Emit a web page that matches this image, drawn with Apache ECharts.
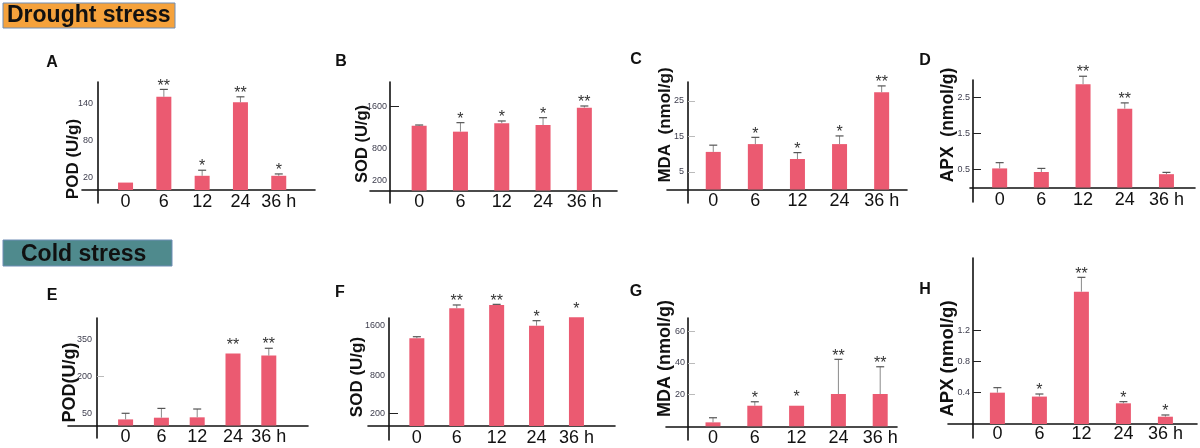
<!DOCTYPE html>
<html>
<head>
<meta charset="utf-8">
<script src="https://cdn.jsdelivr.net/npm/echarts@6.0.0/dist/echarts.min.js"></script>
<style>
  html, body { margin: 0; padding: 0; background: #fff; }
  #chart { width: 1200px; height: 448px; }
</style>
</head>
<body>
<div id="chart"></div>
<script>
// ---------- data ----------
const categories = ['0', '6', '12', '24', '36 h'];

// Drought stress
const podDrought = [12, 151, 23, 142, 23];
const podDroughtErr = [null, 163, 32, 151, 26];
const podDroughtSig = ['', '**', '*', '**', '*'];
const podDroughtTicks = [20, 80, 140];

const sodDrought = [1237, 1123, 1283, 1250, 1581];
const sodDroughtErr = [1250, 1295, 1327, 1390, 1613];
const sodDroughtSig = ['', '*', '*', '*', '**'];
const sodDroughtTicks = [200, 800, 1600];

const mdaDrought = [10.6, 12.8, 8.6, 12.8, 27.4];
const mdaDroughtErr = [12.5, 14.7, 10.4, 15.1, 29.2];
const mdaDroughtSig = ['', '*', '*', '*', '**'];
const mdaDroughtTicks = [5, 15, 25];

const apxDrought = [0.53, 0.43, 2.87, 2.19, 0.37];
const apxDroughtErr = [0.69, 0.53, 3.09, 2.35, 0.42];
const apxDroughtSig = ['', '', '**', '**', ''];
const apxDroughtTicks = [0.5, 1.5, 2.5];

// Cold stress
const podCold = [25, 32, 33.5, 295, 286];
const podColdErr = [50, 70, 67.5, null, 316];
const podColdSig = ['', '', '', '**', '**'];
const podColdTicks = [50, 200, 350];

const sodCold = [1390, 1865, 1918, 1590, 1723];
const sodColdErr = [1415, 1918, 1928, 1669, null];
const sodColdSig = ['', '**', '**', '*', '*'];
const sodColdTicks = [200, 800, 1600];

const mdaCold = [2.5, 13, 13, 20.4, 20.4];
const mdaColdErr = [5.4, 15.5, null, 42.3, 37.6];
const mdaColdSig = ['', '*', '*', '**', '**'];
const mdaColdTicks = [20, 40, 60];

const apxCold = [0.40, 0.35, 1.69, 0.264, 0.093];
const apxColdErr = [0.464, 0.383, 1.873, 0.285, 0.115];
const apxColdSig = ['', '*', '**', '*', '*'];
const apxColdTicks = [0.4, 0.8, 1.2];

// ---------- layout / style (not data) ----------
const FONT = "'Liberation Sans', Arial, Helvetica, sans-serif";
const BAR_COLOR = '#EB5A71';
const DARK_TICK = '#222';
const FAINT_TICK = '#bbb';

const panels = [
  { letter: 'A', lx: 52, ly: 63, name: 'POD (U/g)', ns: 17, nx: 73, ny: 159,
    bandL: 106.4, bandW: 191.5, top: 82, bottom: 203, axisX: 98, lineL: 82, lineR: 315,
    min: -21.1, max: 175, vals: podDrought, errs: podDroughtErr, sigs: podDroughtSig,
    ticks: podDroughtTicks, tickVals: [], tickColor: DARK_TICK, tickLen: 6, labelMargin: 5, catMargin: 3 },
  { letter: 'B', lx: 341, ly: 62, name: 'SOD (U/g)', ns: 16.5, nx: 362, ny: 144,
    bandL: 398.5, bandW: 206.5, top: 82, bottom: 203, axisX: 390, lineL: 370, lineR: 617,
    min: -238.6, max: 2071, vals: sodDrought, errs: sodDroughtErr, sigs: sodDroughtSig,
    ticks: sodDroughtTicks, tickVals: [1600], tickColor: DARK_TICK, tickLen: 9, labelMargin: 3, catMargin: 3 },
  { letter: 'C', lx: 636, ly: 60, name: 'MDA  (nmol/g)', ns: 17, nx: 665, ny: 125,
    bandL: 692.2, bandW: 210.5, top: 82, bottom: 203, axisX: 688, lineL: 667, lineR: 907,
    min: -3.8, max: 30.3, vals: mdaDrought, errs: mdaDroughtErr, sigs: mdaDroughtSig,
    ticks: mdaDroughtTicks, tickVals: mdaDroughtTicks, tickColor: FAINT_TICK, tickLen: 7, labelMargin: 4, catMargin: 3 },
  { letter: 'D', lx: 925, ly: 61, name: 'APX  (nmol/g)', ns: 17.5, nx: 948, ny: 125,
    bandL: 978.8, bandW: 208.5, top: 80, bottom: 202, axisX: 973, lineL: 970, lineR: 1195,
    min: -0.403, max: 2.986, vals: apxDrought, errs: apxDroughtErr, sigs: apxDroughtSig,
    ticks: apxDroughtTicks, tickVals: apxDroughtTicks, tickColor: DARK_TICK, tickLen: 8, labelMargin: 3, catMargin: 4 },
  { letter: 'E', lx: 52, ly: 296, name: 'POD(U/g)', ns: 18, nx: 70, ny: 382.5,
    bandL: 107.7, bandW: 179, top: 318, bottom: 438, axisX: 97, lineL: 68, lineR: 308,
    min: -51.1, max: 439.9, vals: podCold, errs: podColdErr, sigs: podColdSig,
    ticks: podColdTicks, tickVals: [200], tickColor: FAINT_TICK, tickLen: 7, labelMargin: 5, catMargin: 3 },
  { letter: 'F', lx: 340, ly: 293, name: 'SOD (U/g)', ns: 17, nx: 357, ny: 377,
    bandL: 396.9, bandW: 199.5, top: 318, bottom: 440, axisX: 389, lineL: 368, lineR: 615,
    min: -221.9, max: 1711.6, vals: sodCold, errs: sodColdErr, sigs: sodColdSig,
    ticks: sodColdTicks, tickVals: [200], tickColor: DARK_TICK, tickLen: 9, labelMargin: 4, catMargin: 3 },
  { letter: 'G', lx: 636, ly: 292, name: 'MDA (nmol/g)', ns: 18, nx: 665, ny: 358.5,
    bandL: 692.1, bandW: 209, top: 318, bottom: 440, axisX: 688, lineL: 666, lineR: 897,
    min: -8.65, max: 68.4, vals: mdaCold, errs: mdaColdErr, sigs: mdaColdSig,
    ticks: mdaColdTicks, tickVals: mdaColdTicks, tickColor: FAINT_TICK, tickLen: 7, labelMargin: 3, catMargin: 3 },
  { letter: 'H', lx: 925, ly: 290, name: 'APX (nmol/g)', ns: 18.5, nx: 948, ny: 358.5,
    bandL: 976.4, bandW: 210, top: 258, bottom: 438, axisX: 973, lineL: 948, lineR: 1197,
    min: -0.179, max: 2.12, vals: apxCold, errs: apxColdErr, sigs: apxColdSig,
    ticks: apxColdTicks, tickVals: apxColdTicks, tickColor: DARK_TICK, tickLen: 8, labelMargin: 3, catMargin: 1 }
];

// ---------- build option ----------
const grid = [], xAxis = [], yAxis = [], series = [], graphic = [];

function errorRender(p) {
  return function (params, api) {
    const i = params.dataIndex;
    const v = api.value(1);
    const e = p.errs[i];
    const top = api.coord([api.value(0), v]);
    const children = [];
    let starY = top[1] - 11;
    if (e != null) {
      const et = api.coord([api.value(0), e]);
      children.push({ type: 'line', shape: { x1: top[0], y1: top[1], x2: top[0], y2: et[1] },
        style: { stroke: '#8a8a8a', lineWidth: 1 } });
      children.push({ type: 'line', shape: { x1: top[0] - 4, y1: et[1], x2: top[0] + 4, y2: et[1] },
        style: { stroke: '#555', lineWidth: 1.2 } });
      starY = et[1] - 6.5;
    }
    const s = p.sigs[i];
    if (s) {
      children.push({ type: 'text', x: top[0], y: starY + 3.3,
        style: { text: s, fill: '#333', fontSize: 16, fontFamily: FONT,
          align: 'center', verticalAlign: 'middle', textAlign: 'center', textVerticalAlign: 'middle' } });
    }
    return { type: 'group', children: children };
  };
}

function plainNumber(v) { return String(v); }

panels.forEach(function (p, k) {
  const h = p.bottom - p.top;
  // distance from the grid bottom up to the value-0 line of the y axis
  const zeroLift = h * (-p.min) / (p.max - p.min);

  const gMain = grid.length;
  grid.push({ left: p.bandL, top: p.top, width: p.bandW, height: h,
    containLabel: false, outerBoundsMode: 'none' });
  const gFrame = grid.length;
  grid.push({ left: p.lineL, top: p.top, width: p.lineR - p.lineL, height: h,
    containLabel: false, outerBoundsMode: 'none' });

  // main category axis (labels only); lifted from grid bottom to the zero line
  const xMain = xAxis.length;
  xAxis.push({ type: 'category', gridIndex: gMain, data: categories, position: 'bottom',
    offset: -zeroLift,
    axisLine: { show: false, onZero: false },
    axisTick: { show: false },
    splitLine: { show: false },
    axisLabel: { interval: 0, fontSize: 18, color: '#111', fontFamily: FONT, margin: p.catMargin } });
  const yMain = yAxis.length;
  yAxis.push({ type: 'value', gridIndex: gMain, min: p.min, max: p.max,
    offset: p.bandL - p.axisX,
    axisLine: { show: true, onZero: false, lineStyle: { color: '#111', width: 1.6 } },
    axisTick: { show: p.tickVals.length > 0, inside: true, length: p.tickLen,
      customValues: p.tickVals, lineStyle: { color: p.tickColor, width: 1 } },
    splitLine: { show: false },
    axisLabel: { customValues: p.ticks, formatter: plainNumber, fontSize: 9, color: '#3d3d4d',
      fontFamily: FONT, margin: p.labelMargin } });

  // frame axis: the long horizontal baseline at value 0
  xAxis.push({ type: 'value', gridIndex: gFrame, min: 0, max: 1, position: 'bottom',
    offset: -zeroLift,
    axisLine: { show: true, onZero: false, lineStyle: { color: '#111', width: 1.6 } },
    axisTick: { show: false }, axisLabel: { show: false }, splitLine: { show: false } });
  yAxis.push({ type: 'value', gridIndex: gFrame, min: p.min, max: p.max, show: false,
    axisLine: { show: false }, axisTick: { show: false }, axisLabel: { show: false }, splitLine: { show: false } });

  series.push({ type: 'bar', xAxisIndex: xMain, yAxisIndex: yMain, data: p.vals,
    barWidth: 15, itemStyle: { color: BAR_COLOR }, clip: false, silent: true });
  series.push({ type: 'custom', xAxisIndex: xMain, yAxisIndex: yMain, clip: false, silent: true, z: 5,
    data: p.vals.map(function (v, i) { return [i, v]; }),
    renderItem: errorRender(p) });

  graphic.push({ type: 'text', x: p.lx, y: p.ly,
    style: { text: p.letter, fontSize: 16, fontWeight: 'bold', fontFamily: FONT, fill: '#111',
      align: 'center', verticalAlign: 'middle' } });
  graphic.push({ type: 'text', x: p.nx, y: p.ny, rotation: Math.PI / 2,
    style: { text: p.name, fontSize: p.ns, fontWeight: 'bold', fontFamily: FONT, fill: '#111',
      align: 'center', verticalAlign: 'middle' } });
});

// section headers
graphic.push({ type: 'rect', shape: { x: 3, y: 3, width: 172, height: 25 },
  style: { fill: '#F5A23C', stroke: '#6E8DB5', lineWidth: 1 } });
graphic.push({ type: 'text', x: 7, y: 16,
  style: { text: 'Drought stress', fontSize: 23, fontWeight: 'bold', fontFamily: FONT, fill: '#111',
    align: 'left', verticalAlign: 'middle' } });
graphic.push({ type: 'rect', shape: { x: 3, y: 240, width: 169, height: 26 },
  style: { fill: '#4F8A8D', stroke: '#6E8DB5', lineWidth: 1 } });
graphic.push({ type: 'text', x: 21, y: 254.5,
  style: { text: 'Cold stress', fontSize: 23, fontWeight: 'bold', fontFamily: FONT, fill: '#111',
    align: 'left', verticalAlign: 'middle' } });

const chart = echarts.init(document.getElementById('chart'), null, { renderer: 'canvas' });
chart.setOption({
  animation: false,
  backgroundColor: '#fff',
  textStyle: { fontFamily: FONT },
  grid: grid, xAxis: xAxis, yAxis: yAxis, series: series, graphic: graphic
});
</script>
</body>
</html>
